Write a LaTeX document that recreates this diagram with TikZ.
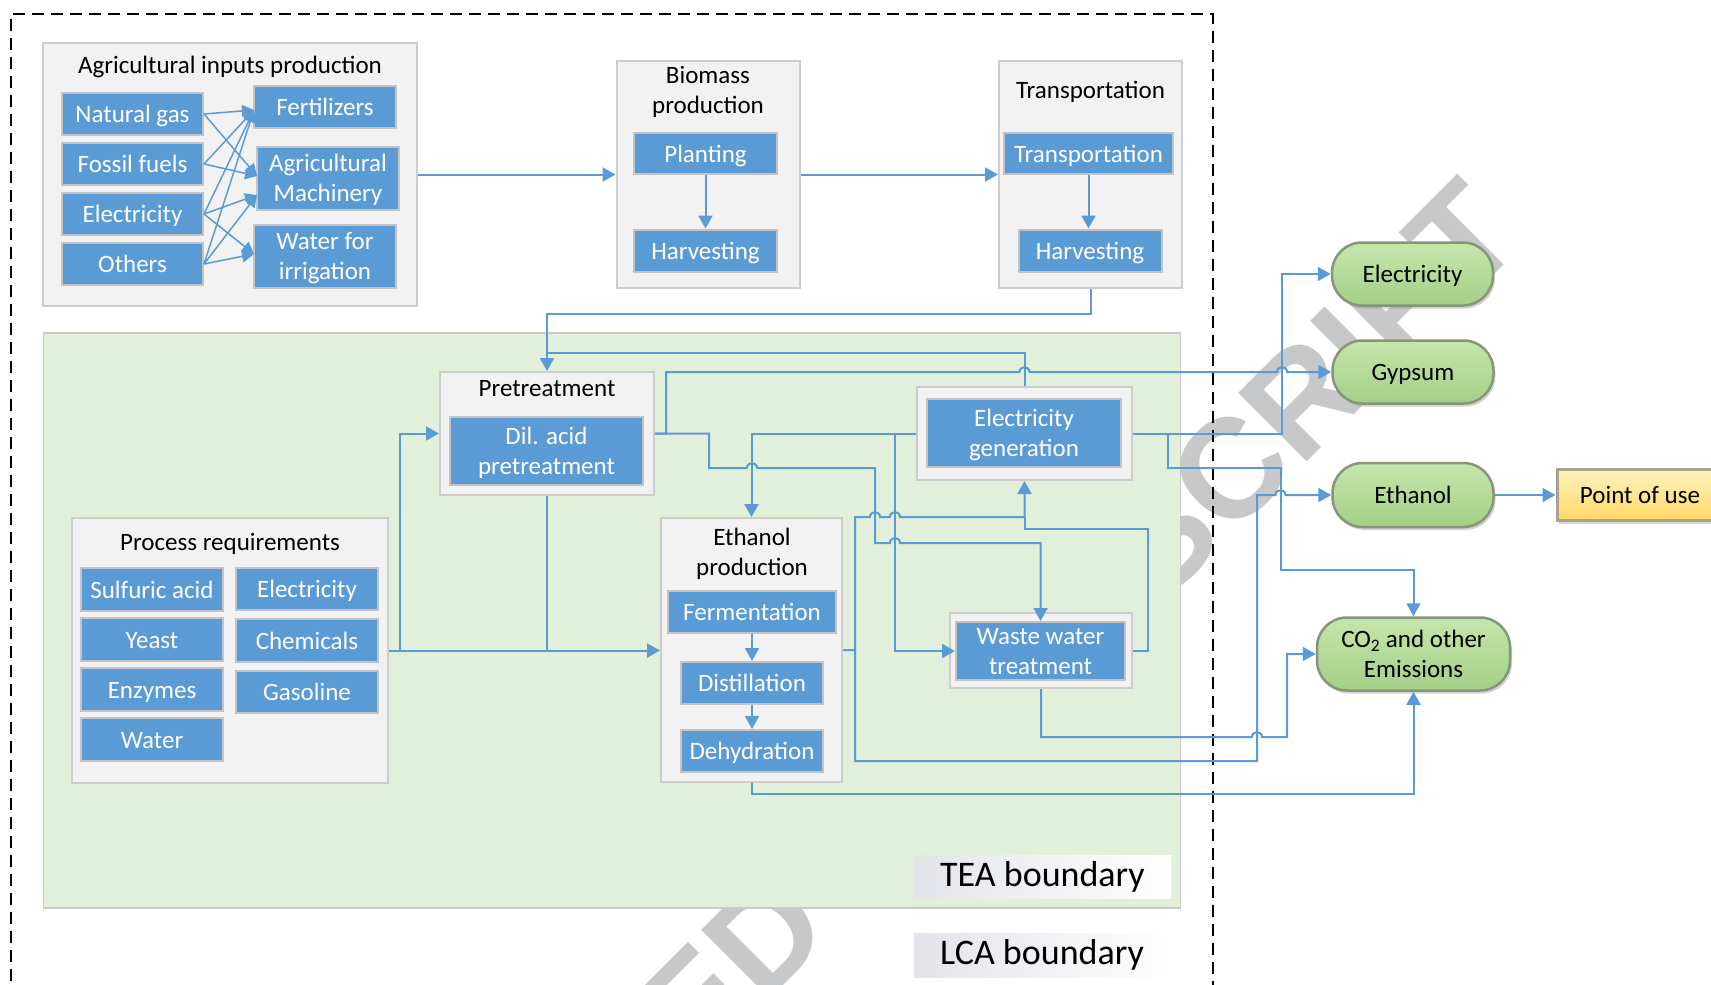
\documentclass[tikz,border=0pt]{standalone}
\usepackage{fontspec}
\setmainfont{Carlito}
\newfontfamily\wmfont{Liberation Sans}
\usetikzlibrary{arrows.meta,shadows}

\definecolor{boxblue}{HTML}{5B9BD5}
\definecolor{lineblue}{HTML}{5B9BD5}
\definecolor{edgegray}{HTML}{C3C3C3}
\definecolor{groupfill}{HTML}{F2F2F2}
\definecolor{groupedge}{HTML}{CDCDCD}
\definecolor{teafill}{HTML}{E2EFDA}
\definecolor{teaedge}{HTML}{C9C9C9}
\definecolor{wmgray}{HTML}{C7C8CA}
\definecolor{ovaltop}{HTML}{C6E6AC}
\definecolor{ovalbot}{HTML}{A4CF86}
\definecolor{ovaledge}{HTML}{85967A}
\definecolor{poutop}{HTML}{FFF3BC}
\definecolor{poubot}{HTML}{FFD966}
\definecolor{pouedge}{HTML}{A8A38C}
\definecolor{lblgray}{HTML}{E2E4EA}

\newcommand\boxfont{\fontsize{25}{30}\selectfont}
\newcommand\bigfont{\fontsize{36}{40}\selectfont}
% small bump where a horizontal line jumps over a vertical one
\newcommand\hopx[2]{-- ({#1-5},#2) .. controls ({#1-5},{#2-6.5}) and ({#1+5},{#2-6.5}) .. ({#1+5},#2)}

\tikzset{
  grp/.style={draw=groupedge, line width=2pt, fill=groupfill, inner sep=0pt},
  blu/.style={draw=edgegray, line width=2pt, fill=boxblue, text=white,
              inner sep=0pt, align=center, font=\boxfont},
  ttl/.style={inner sep=0pt, align=center, font=\boxfont, text=black},
  % fixed text boxes so that one- and two-line texts sit centred like the caps
  oneline/.style={text height=17pt, text depth=0pt},
  twoline/.style={text height=51.6pt, text depth=5pt},
  conn/.style={draw=lineblue, line width=2pt},
  arr/.style={conn, -{Triangle[length=13pt,width=14pt]}},
  thinarr/.style={draw=lineblue, line width=1.5pt, -{Triangle[length=12pt,width=12pt]}},
  outp/.style={rounded corners=30pt, draw=ovaledge, line width=2.5pt,
               top color=ovaltop, bottom color=ovalbot, inner sep=0pt,
               align=center, font=\boxfont, text=black,
               drop shadow={shadow xshift=2pt, shadow yshift=-3pt, opacity=0.35}},
  poubox/.style={draw=pouedge, line width=3pt, top color=poutop, bottom color=poubot,
                 inner sep=0pt, font=\boxfont, text=black,
                 drop shadow={shadow xshift=2pt, shadow yshift=-3pt, opacity=0.3}},
  lbl/.style={left color=lblgray, right color=white, inner sep=0pt, font=\bigfont, text=black},
}

\begin{document}
\begin{tikzpicture}[x=1pt,y=-1pt]
\useasboundingbox (0,0) rectangle (1711,985);
\clip (0,0) rectangle (1711,985);
\fill[white] (0,0) rectangle (1711,985);

% watermark
\node[rotate=45, text=wmgray, inner sep=0pt,
      font=\wmfont\bfseries\fontsize{141}{141}\selectfont] (wm) at (873,827) {ACCEPTED MANUSCRIPT};

% LCA boundary
\draw[black, line width=2pt, dash pattern=on 12pt off 7pt]
  (11,1000) -- (11,14) -- (1212.5,14) -- (1212.5,1000);

% TEA region
\node[draw=teaedge, fill=teafill, line width=1.5pt, inner sep=0pt,
      minimum width=1137, minimum height=575] (tea) at (612,620.5) {};

% ---------------- agricultural inputs ----------------
\node[grp, minimum width=374, minimum height=263] (agri) at (230,174.5) {};
\node[ttl, oneline] (agrittl) at (230,65) {Agricultural inputs production};
\node[blu, oneline, minimum width=141, minimum height=42] (ng) at (132.5,114) {Natural gas};
\node[blu, oneline, minimum width=141, minimum height=42] (ff) at (132.5,164) {Fossil fuels};
\node[blu, oneline, minimum width=141, minimum height=42] (el) at (132.5,214) {Electricity};
\node[blu, oneline, minimum width=141, minimum height=42] (ot) at (132.5,264) {Others};
\node[blu, oneline, minimum width=142, minimum height=42] (fert) at (325,107) {Fertilizers};
\node[blu, twoline, minimum width=142, minimum height=63] (mach) at (328,178.5) {Agricultural\\Machinery};
\node[blu, twoline, minimum width=142, minimum height=63] (wat) at (325,256.5) {Water for\\irrigation};

\coordinate (tF) at (254,110);
\coordinate (tM1) at (257,176);
\coordinate (tM2) at (257,195);
\coordinate (tW) at (254,254);
\draw[thinarr] (ng.east) -- (tF);
\draw[thinarr] (ng.east) -- (tM1);
\draw[thinarr] (ff.east) -- (tF);
\draw[thinarr] (ff.east) -- (tM1);
\draw[thinarr] (el.east) -- (tF);
\draw[thinarr] (el.east) -- (tM2);
\draw[thinarr] (el.east) -- (tW);
\draw[thinarr] (ot.east) -- (tF);
\draw[thinarr] (ot.east) -- (tM2);
\draw[thinarr] (ot.east) -- (tW);

% ---------------- biomass production ----------------
\node[grp, minimum width=183, minimum height=227] (bio) at (708,174.5) {};
\node[ttl, twoline] (biottl) at (708,90) {Biomass\\production};
\node[blu, oneline, minimum width=143, minimum height=41] (plant) at (705.5,153.5) {Planting};
\node[blu, oneline, minimum width=143, minimum height=42] (harv) at (705.5,250.5) {Harvesting};
\draw[arr] (plant.south) -- (harv.north);

% ---------------- transportation ----------------
\node[grp, minimum width=183, minimum height=227] (trgrp) at (1090.5,174.5) {};
\node[ttl, oneline] (trttl) at (1090.5,90) {Transportation};
\node[blu, oneline, minimum width=169, minimum height=41] (trans) at (1088.5,153.5) {Transportation};
\node[blu, oneline, minimum width=143, minimum height=42] (harvb) at (1090,250.5) {Harvesting};
\draw[arr] (trans.south) -- (trans.south |- harvb.north);

\draw[arr] (agri.east) -- (bio.west);
\draw[arr] (bio.east) -- (trgrp.west);

% ---------------- pretreatment ----------------
\node[grp, minimum width=214, minimum height=123] (pre) at (547,433.5) {};
\node[ttl, oneline] (prettl) at (547,388) {Pretreatment};
\node[blu, twoline, minimum width=193, minimum height=68] (dil) at (546.5,451) {Dil. acid\\pretreatment};

% ---------------- process requirements ----------------
\node[grp, minimum width=316, minimum height=265] (proc) at (230,650.5) {};
\node[ttl, oneline] (procttl) at (230,542) {Process requirements};
\node[blu, oneline, minimum width=142, minimum height=43] (sulf) at (152,589.5) {Sulfuric acid};
\node[blu, oneline, minimum width=142, minimum height=42] (pel) at (307,589) {Electricity};
\node[blu, oneline, minimum width=142, minimum height=43] (yeast) at (152,639.5) {Yeast};
\node[blu, oneline, minimum width=142, minimum height=43] (chem) at (307,640.5) {Chemicals};
\node[blu, oneline, minimum width=142, minimum height=43] (enz) at (152,689.5) {Enzymes};
\node[blu, oneline, minimum width=142, minimum height=42] (gaso) at (307,692) {Gasoline};
\node[blu, oneline, minimum width=142, minimum height=43] (pwat) at (152,739.5) {Water};

% ---------------- ethanol production ----------------
\node[grp, minimum width=181, minimum height=264] (eth) at (751.5,650) {};
\node[ttl, twoline] (ethttl) at (752,552.5) {Ethanol\\production};
\node[blu, oneline, minimum width=168, minimum height=42] (ferm) at (752,612) {Fermentation};
\node[blu, oneline, minimum width=142, minimum height=42] (dist) at (752,683) {Distillation};
\node[blu, oneline, minimum width=142, minimum height=42] (dehy) at (752,751) {Dehydration};
\draw[arr] (ferm.south) -- (dist.north);
\draw[arr] (dist.south) -- (dehy.north);

% ---------------- electricity generation ----------------
\node[grp, minimum width=215, minimum height=93] (egen) at (1024.5,433.5) {};
\node[blu, twoline, minimum width=194, minimum height=68] (egeni) at (1024,433) {Electricity\\generation};

% ---------------- waste water treatment ----------------
\node[grp, minimum width=182, minimum height=75] (ww) at (1041,650.5) {};
\node[blu, twoline, minimum width=169, minimum height=58] (wwi) at (1040.5,651) {Waste water\\treatment};

% ---------------- products ----------------
\node[outp, oneline, minimum width=161, minimum height=63] (oel) at (1412.5,274) {Electricity};
\node[outp, oneline, minimum width=161, minimum height=63] (ogyp) at (1413,372) {Gypsum};
\node[outp, oneline, minimum width=161, minimum height=64] (oeth) at (1413,495) {Ethanol};
\node[outp, twoline, minimum width=193, minimum height=73] (oco2) at (1413.5,654) {CO\textsubscript{2} and other\\Emissions};
\node[poubox, oneline, minimum width=166, minimum height=51] (pou) at (1640,495) {Point of use};

% ---------------- boundary labels ----------------
\node[lbl, minimum width=257, minimum height=43] (tealbl) at (1042.5,876.5) {TEA boundary};
\node[lbl, minimum width=256, minimum height=44] (lcalbl) at (1042,955) {LCA boundary};

% ---------------- flows ----------------
% feedstock to pretreatment
\draw[arr] (trgrp.south) -- ++(0,25) -| (pre.north);
% power to pretreatment
\draw[conn] (egen.north) |- (547,353);
% process inputs
\coordinate (jp) at (400,650.5);
\draw[conn] (proc.east) -- (jp);
\draw[arr] (jp) |- (pre.west);
\draw[arr] (jp) -- (jp -| eth.west);
\draw[conn] (pre.south) -- (pre.south |- jp);
% gypsum
\draw[arr] (pre.east) -- (666,433.5) -- (666,372) \hopx{1024.5}{372} \hopx{1282}{372} -- (ogyp.west);
% pretreatment effluent to waste water
\draw[arr] (pre.east) -- (709,433.5) -- (709,468) \hopx{752}{468} -- (875,468) -- (875,543) \hopx{895}{543} -| (wwi.north);
% power to ethanol production and waste water
\draw[arr] (egen.west) -| (eth.north);
\draw[arr] (895,433.5) |- (wwi.west);
% residues and biogas to power generation
\draw[arr] (eth.east) -- (855,650) -- (855,517) \hopx{875}{517} \hopx{895}{517} -- (1024.5,517) -- (egen.south);
\draw[conn] (ww.east) -- (1148,650.5) |- (1024.5,529) -- (1024.5,517);
% ethanol product
\draw[arr] (855,650) -- (855,761) -- (1257,761) -- (1257,495) \hopx{1280.5}{495} -- (oeth.west);
\draw[arr] (oeth.east) -- (pou.west);
% emissions
\draw[arr] (ww.south) -- (1041,737) \hopx{1257}{737} -- (1287,737) |- (oco2.west);
\draw[arr] (eth.south) -- ++(0,11) -| (oco2.south);
\draw[arr] (1168,433.5) -- (1168,468) -- (1280.5,468) -- (1280.5,570) -| (oco2.north);
% electricity product
\draw[arr] (egen.east) -- (1282,433.5) |- (oel.west);
\end{tikzpicture}
\end{document}
